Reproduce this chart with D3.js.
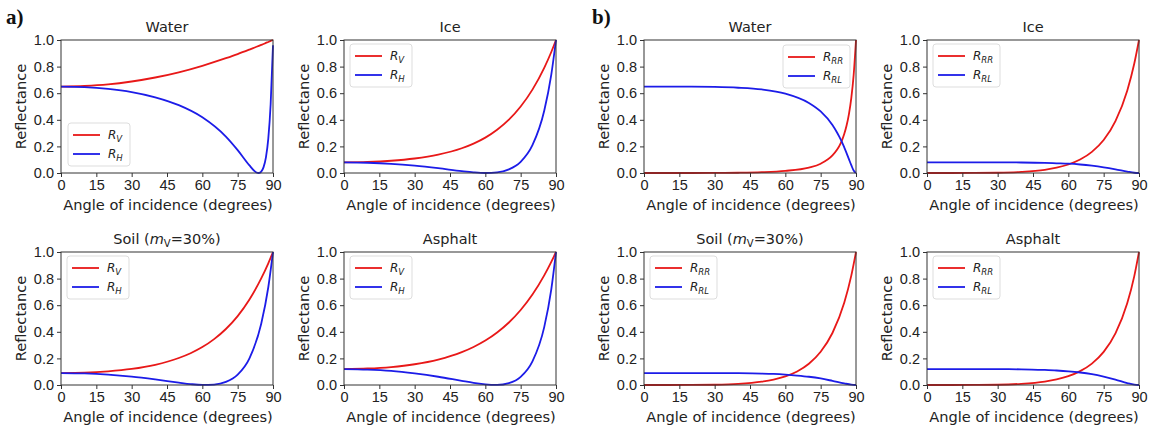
<!DOCTYPE html>
<html>
<head>
<meta charset="utf-8">
<script src="https://cdn.jsdelivr.net/npm/d3@7"></script>
<style>
  body { margin: 0; background: #fff; }
  svg { font-family: "DejaVu Sans", sans-serif; }
  .tick text { font-size: 14.5px; fill: #222; }
  .tick line, .domain { stroke: #333; }
</style>
</head>
<body>
<div id="chart"></div>
<script>
// angles (degrees) sampled for each curve
var waterAngles = [0, 10, 20, 30, 40, 50, 60, 70, 75, 80, 82, 83, 84, 85, 86, 87, 88, 89, 90];
var angles = [0, 10, 20, 30, 40, 50, 55, 60, 65, 70, 75, 80, 85, 88, 90];

var waterRV  = [0.649, 0.654, 0.666, 0.688, 0.718, 0.757, 0.806, 0.863, 0.894, 0.928, 0.942, 0.949, 0.956, 0.963, 0.970, 0.978, 0.985, 0.993, 1.0];
var waterRH  = [0.649, 0.645, 0.632, 0.608, 0.569, 0.510, 0.419, 0.274, 0.172, 0.057, 0.017, 0.004, 0.0001, 0.010, 0.044, 0.117, 0.258, 0.517, 0.96];
var waterRRR = [0, 0, 0.0001, 0.0006, 0.002, 0.006, 0.016, 0.041, 0.070, 0.132, 0.176, 0.206, 0.244, 0.293, 0.357, 0.443, 0.563, 0.736, 1.0];
var waterRRL = [0.649, 0.649, 0.649, 0.647, 0.641, 0.628, 0.597, 0.527, 0.463, 0.361, 0.303, 0.270, 0.234, 0.193, 0.150, 0.104, 0.059, 0.019, 0];

var iceRV  = [0.080, 0.083, 0.092, 0.109, 0.138, 0.186, 0.221, 0.266, 0.325, 0.401, 0.500, 0.627, 0.791, 0.910, 1.0];
var iceRH  = [0.080, 0.077, 0.069, 0.055, 0.036, 0.014, 0.005, 0.0001, 0.004, 0.027, 0.084, 0.209, 0.468, 0.740, 1.0];
var iceRRR = [0, 0, 0.0004, 0.002, 0.008, 0.024, 0.040, 0.064, 0.101, 0.159, 0.248, 0.390, 0.619, 0.823, 1.0];
var iceRRL = [0.080, 0.080, 0.080, 0.080, 0.079, 0.076, 0.073, 0.070, 0.064, 0.055, 0.043, 0.028, 0.011, 0.002, 0];

var soilRV  = [0.090, 0.093, 0.103, 0.121, 0.152, 0.203, 0.239, 0.285, 0.345, 0.421, 0.518, 0.643, 0.801, 0.915, 1.0];
var soilRH  = [0.090, 0.087, 0.078, 0.063, 0.042, 0.018, 0.007, 0.0006, 0.003, 0.023, 0.078, 0.201, 0.460, 0.735, 1.0];
var soilRRR = [0, 0, 0.0004, 0.002, 0.008, 0.025, 0.041, 0.065, 0.102, 0.160, 0.250, 0.391, 0.618, 0.822, 1.0];
var soilRRL = [0.090, 0.090, 0.090, 0.090, 0.089, 0.086, 0.083, 0.078, 0.071, 0.062, 0.049, 0.031, 0.012, 0.0025, 0];

var asphaltRV  = [0.120, 0.124, 0.135, 0.156, 0.191, 0.247, 0.286, 0.334, 0.395, 0.470, 0.564, 0.680, 0.824, 0.925, 1.0];
var asphaltRH  = [0.120, 0.116, 0.106, 0.087, 0.062, 0.031, 0.016, 0.004, 0.0002, 0.014, 0.061, 0.177, 0.435, 0.719, 1.0];
var asphaltRRR = [0, 0, 0.0005, 0.002, 0.009, 0.026, 0.042, 0.066, 0.104, 0.161, 0.249, 0.388, 0.614, 0.819, 1.0];
var asphaltRRL = [0.120, 0.120, 0.120, 0.119, 0.118, 0.113, 0.109, 0.103, 0.094, 0.081, 0.063, 0.041, 0.015, 0.003, 0];

var xTicks = [0, 15, 30, 45, 60, 75, 90];
var yTicks = [0, 0.2, 0.4, 0.6, 0.8, 1.0];

var linearLabels = [["R", "V"], ["R", "H"]];
var circLabels = [["R", "RR"], ["R", "RL"]];

// panel list: column/row index, title, series, legend placement
var panels = [
  { col: 0, row: 0, title: "Water", x: waterAngles, s: [waterRV, waterRH], labels: linearLabels, legend: "ll" },
  { col: 1, row: 0, title: "Ice", x: angles, s: [iceRV, iceRH], labels: linearLabels, legend: "ul" },
  { col: 2, row: 0, title: "Water", x: waterAngles, s: [waterRRR, waterRRL], labels: circLabels, legend: "ur" },
  { col: 3, row: 0, title: "Ice", x: angles, s: [iceRRR, iceRRL], labels: circLabels, legend: "ul" },
  { col: 0, row: 1, title: "soil", x: angles, s: [soilRV, soilRH], labels: linearLabels, legend: "ul" },
  { col: 1, row: 1, title: "Asphalt", x: angles, s: [asphaltRV, asphaltRH], labels: linearLabels, legend: "ul" },
  { col: 2, row: 1, title: "soil", x: angles, s: [soilRRR, soilRRL], labels: circLabels, legend: "ul" },
  { col: 3, row: 1, title: "Asphalt", x: angles, s: [asphaltRRR, asphaltRRL], labels: circLabels, legend: "ul" }
];

var colors = ["#e81818", "#1c1ce8"];

var W = 1157, H = 431;
var colX = [61, 344, 644, 927], rowY = [40, 252];
var pw = 212, ph = 133;

var svg = d3.select("#chart").append("svg")
    .attr("width", W)
    .attr("height", H);

var x = d3.scaleLinear().domain([0, 90]).range([0, pw]);
var y = d3.scaleLinear().domain([0, 1]).range([ph, 0]);

panels.forEach(function (p) {
    var g = svg.append("g")
        .attr("transform", "translate(" + colX[p.col] + "," + rowY[p.row] + ")");

    // curves
    p.s.forEach(function (vals, i) {
        var pts = vals.map(function (v, k) { return [p.x[k], v]; });
        var line = d3.line()
            .x(function (d) { return x(d[0]); })
            .y(function (d) { return y(d[1]); })
            .curve(d3.curveMonotoneX);
        g.append("path")
            .datum(pts)
            .attr("fill", "none")
            .attr("stroke", colors[i])
            .attr("stroke-width", 1.8)
            .attr("d", line);
    });

    // axes
    g.append("g")
        .attr("transform", "translate(0," + ph + ")")
        .call(d3.axisBottom(x).tickValues(xTicks).tickSize(4).tickPadding(3));
    g.append("g")
        .call(d3.axisLeft(y).tickValues(yTicks).tickSize(4).tickPadding(3).tickFormat(d3.format(".1f")));
    g.selectAll(".domain").remove();

    // frame
    g.append("rect")
        .attr("width", pw).attr("height", ph)
        .attr("fill", "none").attr("stroke", "#333").attr("stroke-width", 1);

    // title
    var t = g.append("text")
        .attr("x", pw / 2).attr("y", -8)
        .attr("text-anchor", "middle")
        .attr("font-size", 14.5).attr("fill", "#222");
    if (p.title === "soil") {
        t.append("tspan").text("Soil (");
        t.append("tspan").attr("font-style", "italic").text("m");
        t.append("tspan").attr("font-size", 10).attr("dy", 3).text("V");
        t.append("tspan").attr("dy", -3).text("=30%)");
    } else {
        t.text(p.title);
    }

    // axis labels
    g.append("text")
        .attr("x", pw / 2 + 1).attr("y", ph + 37)
        .attr("text-anchor", "middle")
        .attr("font-size", 14.6).attr("fill", "#222")
        .text("Angle of incidence (degrees)");
    g.append("text")
        .attr("transform", "translate(-35," + (ph / 2) + ") rotate(-90)")
        .attr("text-anchor", "middle")
        .attr("font-size", 14.6).attr("fill", "#222")
        .text("Reflectance");

    // legend
    var lw = p.labels === circLabels ? 67 : 62, lh = 43;
    var lx = 6, ly = 4;
    if (p.legend === "ll") { lx = 7; ly = ph - lh - 7; }
    if (p.legend === "ur") { lx = pw - lw - 6; ly = 5; }
    var lg = g.append("g").attr("transform", "translate(" + lx + "," + ly + ")");
    lg.append("rect")
        .attr("width", lw).attr("height", lh)
        .attr("rx", 3)
        .attr("fill", "#fff").attr("fill-opacity", 0.8)
        .attr("stroke", "#ddd");
    p.labels.forEach(function (lab, i) {
        var yy = 12 + i * 19;
        lg.append("line")
            .attr("x1", 5).attr("x2", 32)
            .attr("y1", yy).attr("y2", yy)
            .attr("stroke", colors[i]).attr("stroke-width", 1.8);
        var tx = lg.append("text")
            .attr("x", 40).attr("y", yy + 4)
            .attr("font-size", 12).attr("font-style", "italic").attr("fill", "#222");
        tx.append("tspan").text(lab[0]);
        tx.append("tspan").attr("font-size", 8.5).attr("dy", 3).text(lab[1]);
    });
});

// panel group labels
svg.append("text").attr("x", 6).attr("y", 24)
    .attr("font-family", "Liberation Serif, serif").attr("font-weight", "bold")
    .attr("font-size", 21).attr("fill", "#111").text("a)");
svg.append("text").attr("x", 592).attr("y", 24)
    .attr("font-family", "Liberation Serif, serif").attr("font-weight", "bold")
    .attr("font-size", 21).attr("fill", "#111").text("b)");
</script>
</body>
</html>
